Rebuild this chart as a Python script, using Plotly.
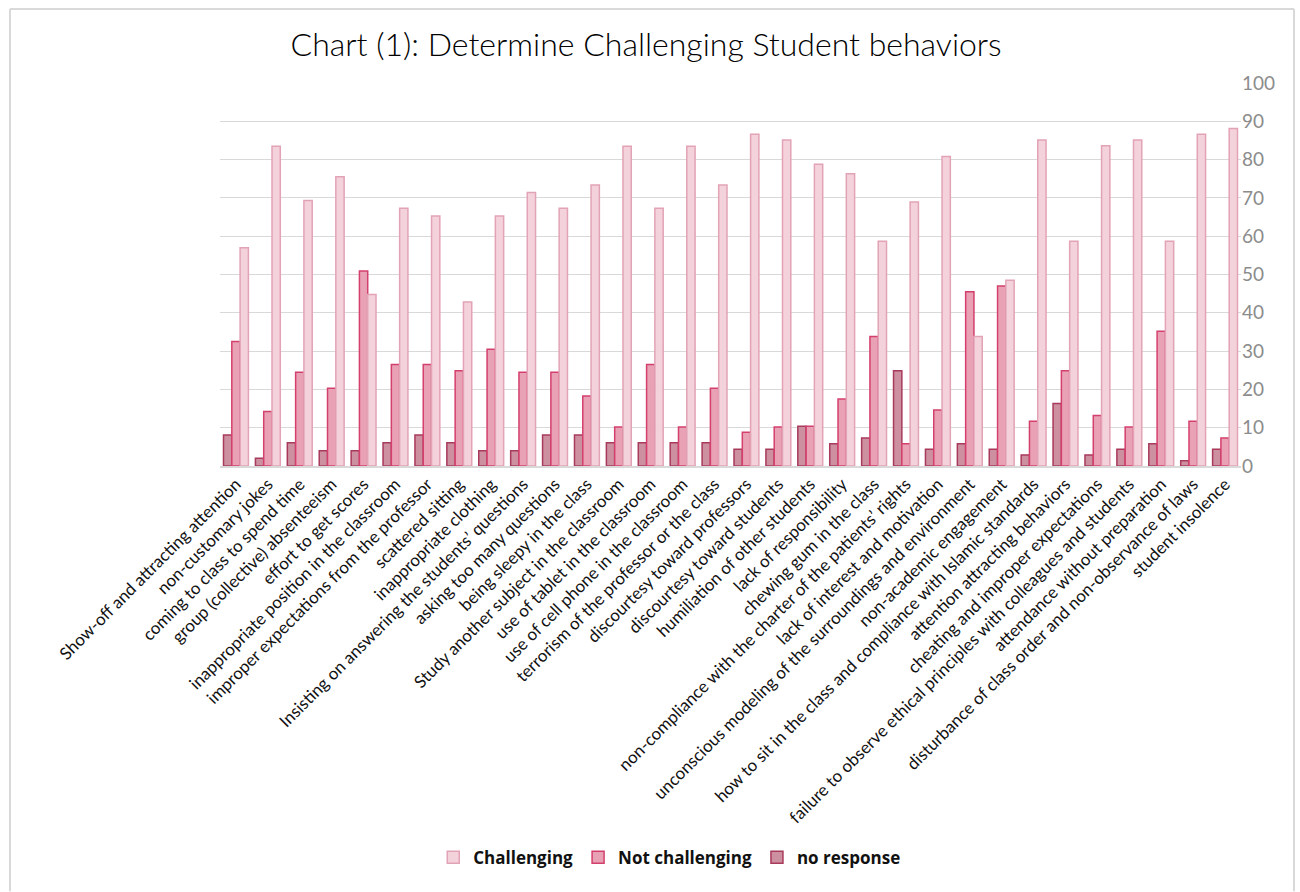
import plotly.graph_objects as go

categories = [
    "Show-off and attracting attention",
    "non-customary jokes",
    "coming to class to spend time",
    "group (collective) absenteeism",
    "effort to get scores",
    "inappropriate position in the classroom",
    "improper expectations from the professor",
    "scattered sitting",
    "inappropriate clothing",
    "Insisting on answering the students\u2019 questions",
    "asking too many questions",
    "being sleepy in the class",
    "Study another subject in the classroom",
    "use of tablet in the classroom",
    "use of cell phone in the classroom",
    "terrorism of the professor or the class",
    "discourtesy toward professors",
    "discourtesy toward students",
    "humiliation of other students",
    "lack of responsibility",
    "chewing gum in the class",
    "non-compliance with the charter of the patients\u2019 rights",
    "lack of interest and motivation",
    "unconscious modeling of the surroundings and environment",
    "non-academic engagement",
    "how to sit in the class and compliance with Islamic standards",
    "attention attracting behaviors",
    "cheating and improper expectations",
    "failure to observe ethical principles with colleagues and students",
    "attendance without preparation",
    "disturbance of class order and non-observance of laws",
    "student insolence",
]

challenging = [57.0, 83.5, 69.3, 75.5, 44.8, 67.3, 65.3, 42.8, 65.3, 71.4, 67.3,
               73.4, 83.5, 67.3, 83.5, 73.4, 86.6, 85.1, 78.8, 76.3, 58.7,
               68.9, 80.8, 33.8, 48.5, 85.1, 58.7, 83.6, 85.1, 58.7, 86.6, 88.1]
not_challenging = [32.5, 14.2, 24.5, 20.3, 50.9, 26.5, 26.5, 24.9, 30.5, 24.5, 24.5,
                   18.3, 10.2, 26.5, 10.2, 20.3, 8.8, 10.2, 10.4, 17.5, 33.8,
                   5.8, 14.6, 45.5, 47.0, 11.7, 24.9, 13.2, 10.2, 35.2, 11.7, 7.3]
no_response = [8.1, 2.0, 6.1, 4.0, 4.0, 6.1, 8.1, 6.1, 4.0, 4.0, 8.1,
               8.1, 6.1, 6.1, 6.1, 6.1, 4.4, 4.4, 10.4, 5.8, 7.3,
               24.9, 4.4, 5.8, 4.4, 2.9, 16.3, 2.9, 4.4, 5.8, 1.4, 4.4]

y_ticks = list(range(0, 101, 10))

fig = go.Figure()
fig.add_trace(go.Bar(
    x=categories, y=no_response, name="no response", legendrank=3,
    marker=dict(color="#cd90a1", line=dict(color="#a83a5c", width=1.5)),
))
fig.add_trace(go.Bar(
    x=categories, y=not_challenging, name="Not challenging", legendrank=2,
    marker=dict(color="#e9a1b5", line=dict(color="#d4406d", width=1.5)),
))
fig.add_trace(go.Bar(
    x=categories, y=challenging, name="Challenging", legendrank=1,
    marker=dict(color="#f4d2db", line=dict(color="#e2a3b6", width=1.5)),
))

fig.update_layout(
    width=1300, height=892,
    paper_bgcolor="white", plot_bgcolor="white",
    margin=dict(l=220, r=59, t=83, b=426, autoexpand=False),
    barmode="group", bargap=0.22, bargroupgap=0,
    title=dict(text="Chart (1): Determine Challenging Student behaviors",
               x=0.497, xref="container", xanchor="center",
               y=0.950, yref="container", yanchor="middle",
               font=dict(family="Lato", size=32, color="#000000", weight=300)),
    font=dict(family="Lato"),
    legend=dict(orientation="h", x=0.44, xanchor="center", y=-1.023, yanchor="middle",
                font=dict(family="Open Sans", size=17, color="#111111", weight="bold"),
                itemwidth=30, traceorder="normal"),
    showlegend=True,
)
fig.update_xaxes(
    tickangle=-45, tickfont=dict(family="Lato", size=17, color="#111111"),
    showline=True, linecolor="#d9d9d9", linewidth=1.5, ticks="", showgrid=False,
    automargin=False,
)
fig.update_yaxes(
    side="right", range=[0, 100], tickvals=y_ticks,
    tickfont=dict(family="Lato", size=19, color="#8c8c8c"),
    showgrid=True, gridcolor="#d9d9d9", gridwidth=1.3, zeroline=False,
    ticks="", showline=False, automargin=False,
)
# outer chart frame (left, top, right edges; bottom runs off the page)
frame = dict(type="line", xref="paper", yref="paper",
             line=dict(color="#d9d9d9", width=2), layer="above")
fx0, fx1, fy0, fy1 = -0.2057, 1.0519, -1.11, 1.193
fig.add_shape(x0=fx0, x1=fx0, y0=fy0, y1=fy1, **frame)
fig.add_shape(x0=fx0, x1=fx1, y0=fy1, y1=fy1, **frame)
fig.add_shape(x0=fx1, x1=fx1, y0=fy0, y1=fy1, **frame)

fig.write_html("out.html", config={"displayModeBar": False},
               post_script="document.body.style.margin='0';document.body.style.padding='0';")
